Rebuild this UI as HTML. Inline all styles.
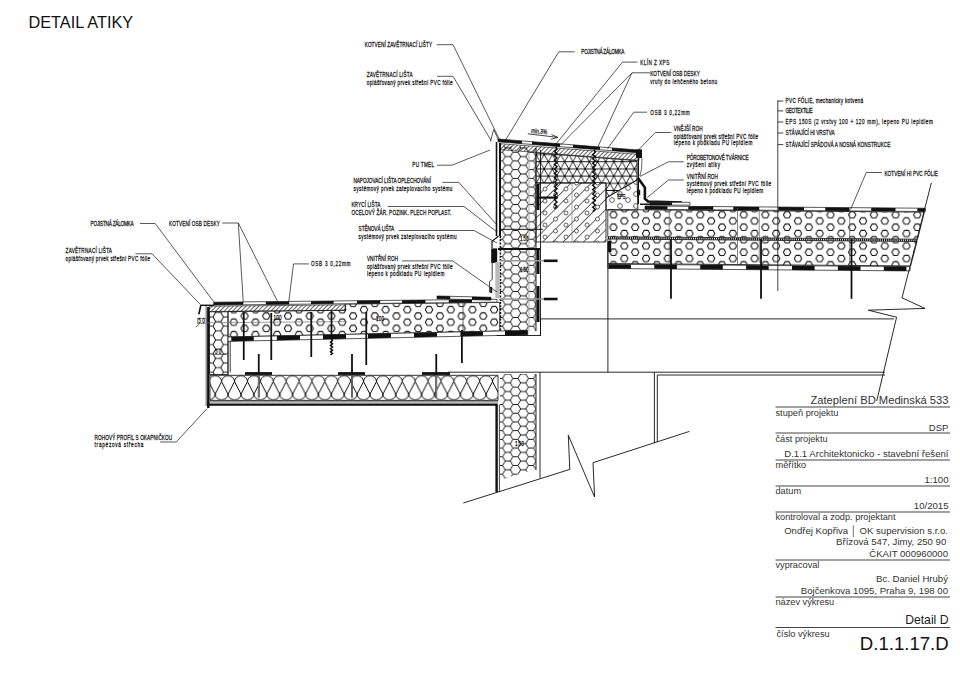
<!DOCTYPE html>
<html><head><meta charset="utf-8"><title>Detail atiky</title>
<style>
html,body{margin:0;padding:0;background:#fff;}
body{width:960px;height:678px;overflow:hidden;}
svg{display:block;font-family:"Liberation Sans",sans-serif;}
.lb{font-size:7.1px;fill:#111;stroke:#111;stroke-width:0.25px;}
.tb{fill:#333;}
</style></head><body>
<svg width="960" height="678" viewBox="0 0 960 678">
<defs>
<pattern id="hex" patternUnits="userSpaceOnUse" width="15.45" height="8.7" x="502.6" y="0">
<path d="M0,4.35 L2.575,0 L7.725,0 L10.3,4.35 L7.725,8.7 L2.575,8.7 Z M10.3,4.35 L15.45,4.35" fill="none" stroke="#111" stroke-width="0.95"/>
</pattern>
<pattern id="hexs" patternUnits="userSpaceOnUse" width="15.45" height="9.2" x="213.05" y="340">
<path d="M0,4.6 L2.575,0 L7.725,0 L10.3,4.6 L7.725,9.2 L2.575,9.2 Z M10.3,4.6 L15.45,4.6" fill="none" stroke="#111" stroke-width="0.95"/>
</pattern>
<pattern id="eps" patternUnits="userSpaceOnUse" width="21.7" height="12.5" x="608.5" y="211.7">
<path d="M1.30,3.10 L3.15,-0.10 L6.85,-0.10 L8.70,3.10 L6.85,6.30 L3.15,6.30 Z M1.30,15.60 L3.15,12.40 L6.85,12.40 L8.70,15.60 L6.85,18.80 L3.15,18.80 Z M12.15,9.30 L14.00,6.10 L17.70,6.10 L19.55,9.30 L17.70,12.50 L14.00,12.50 Z M12.15,-3.20 L14.00,-6.40 L17.70,-6.40 L19.55,-3.20 L17.70,0.00 L14.00,0.00 Z " fill="none" stroke="#111" stroke-width="1.05" stroke-linejoin="round"/>
</pattern>
<pattern id="epsl" patternUnits="userSpaceOnUse" width="21.7" height="12.5" x="608.5" y="212.9">
<path d="M1.30,3.10 L3.15,-0.10 L6.85,-0.10 L8.70,3.10 L6.85,6.30 L3.15,6.30 Z M1.30,15.60 L3.15,12.40 L6.85,12.40 L8.70,15.60 L6.85,18.80 L3.15,18.80 Z M12.15,9.30 L14.00,6.10 L17.70,6.10 L19.55,9.30 L17.70,12.50 L14.00,12.50 Z M12.15,-3.20 L14.00,-6.40 L17.70,-6.40 L19.55,-3.20 L17.70,0.00 L14.00,0.00 Z " fill="none" stroke="#111" stroke-width="1.05" stroke-linejoin="round"/>
</pattern>
<pattern id="eps2" patternUnits="userSpaceOnUse" width="16" height="12" x="0" y="185">
<circle cx="4" cy="3" r="2.4" fill="none" stroke="#222" stroke-width="0.7"/>
<circle cx="12" cy="9" r="2.4" fill="none" stroke="#222" stroke-width="0.7"/>
</pattern>
<pattern id="wool" patternUnits="userSpaceOnUse" width="12.9" height="25.1" x="215.2" y="375.3">
<path d="M-19.35,6.3 A6.45,5.80 0 0 1 -6.45,6.3 M-12.90,18.80 A6.45,5.80 0 0 0 0.00,18.80 M-19.35,6.3 L-12.90,18.80 L-6.45,6.3 M-6.45,6.3 A6.45,5.80 0 0 1 6.45,6.3 M0.00,18.80 A6.45,5.80 0 0 0 12.90,18.80 M-6.45,6.3 L0.00,18.80 L6.45,6.3 M6.45,6.3 A6.45,5.80 0 0 1 19.35,6.3 M12.90,18.80 A6.45,5.80 0 0 0 25.80,18.80 M6.45,6.3 L12.90,18.80 L19.35,6.3 M19.35,6.3 A6.45,5.80 0 0 1 32.25,6.3 M25.80,18.80 A6.45,5.80 0 0 0 38.70,18.80 M19.35,6.3 L25.80,18.80 L32.25,6.3 " fill="none" stroke="#000" stroke-width="0.95"/>
</pattern>
<pattern id="xps" patternUnits="userSpaceOnUse" width="8.2" height="14.4" x="536" y="154.5">
<path d="M0,0 L8.2,0 M0,7.2 L8.2,7.2 M0,14.4 L8.2,14.4 M0,0 L4.1,7.2 L0,14.4 M8.2,0 L4.1,7.2 L8.2,14.4 M-4.1,7.2 L0,0 M-4.1,7.2 L0,14.4 M12.299999999999999,7.2 L8.2,0 M12.299999999999999,7.2 L8.2,14.4" fill="none" stroke="#000" stroke-width="0.85"/><circle cx="0" cy="0" r="0.85" fill="#000"/><circle cx="8.2" cy="0" r="0.85" fill="#000"/><circle cx="4.1" cy="7.2" r="0.85" fill="#000"/><circle cx="0" cy="14.4" r="0.85" fill="#000"/><circle cx="8.2" cy="14.4" r="0.85" fill="#000"/>
</pattern>
<pattern id="conc" patternUnits="userSpaceOnUse" width="7.2" height="7.2" patternTransform="rotate(45)">
<line x1="0" y1="0" x2="0" y2="7.2" stroke="#111" stroke-width="1.25"/>
</pattern>
<pattern id="agg" patternUnits="userSpaceOnUse" width="21" height="12" x="540" y="183">
<circle cx="5" cy="6" r="2" fill="#fff" stroke="#222" stroke-width="0.7"/>
<circle cx="15.5" cy="0" r="2" fill="#fff" stroke="#222" stroke-width="0.7"/>
<circle cx="15.5" cy="12" r="2" fill="#fff" stroke="#222" stroke-width="0.7"/>
</pattern>
<pattern id="osb" patternUnits="userSpaceOnUse" width="3.0" height="3.0" patternTransform="rotate(45)">
<line x1="0" y1="0" x2="0" y2="3.0" stroke="#111" stroke-width="1.3"/>
</pattern>
</defs>
<rect x="0" y="0" width="960" height="678" fill="#fff"/>
<text x="28.5" y="28" font-size="16.3" fill="#111">DETAIL ATIKY</text>
<g id="drawing" fill="none" stroke-linecap="butt">
<polygon points="228.00,311.55 345.30,310.35 345.30,304.05 499.80,302.45 499.80,331.02 228.00,337.00" fill="url(#epsl)" stroke="#111" stroke-width="0.8" />
<polygon points="209.50,311.80 228.00,311.80 228.00,374.50 209.50,374.50" fill="url(#hexs)" stroke="#111" stroke-width="0.8" />
<polygon points="209.50,306.24 345.30,304.85 345.30,310.15 209.50,311.54" fill="url(#osb)" stroke="#111" stroke-width="0.6" />
<polygon points="213.80,302.20 497.00,299.28 497.00,302.18 213.80,305.10" fill="#fff" stroke="#111" stroke-width="0.7" />
<polygon points="213.80,302.20 243.25,301.90 243.25,304.80 213.80,305.10" fill="#111" stroke="none" stroke-width="0.8" />
<polygon points="265.80,301.66 289.20,301.42 289.20,304.32 265.80,304.56" fill="#111" stroke="none" stroke-width="0.8" />
<polygon points="311.00,301.20 333.60,300.97 333.60,303.87 311.00,304.10" fill="#111" stroke="none" stroke-width="0.8" />
<polygon points="357.00,300.73 380.20,300.49 380.20,303.39 357.00,303.63" fill="#111" stroke="none" stroke-width="0.8" />
<polygon points="402.00,300.26 425.40,300.02 425.40,302.92 402.00,303.16" fill="#111" stroke="none" stroke-width="0.8" />
<polygon points="448.75,299.78 472.00,299.54 472.00,302.44 448.75,302.68" fill="#111" stroke="none" stroke-width="0.8" />
<polygon points="437.00,296.00 491.00,297.30 491.00,300.10 437.00,298.80" fill="#fff" stroke="#111" stroke-width="0.7" />
<polygon points="437.00,296.00 450.20,296.32 450.20,299.12 437.00,298.80" fill="#111" stroke="none" stroke-width="0.8" />
<polygon points="472.00,296.84 491.00,297.30 491.00,300.10 472.00,299.64" fill="#111" stroke="none" stroke-width="0.8" />
<polygon points="228.00,337.00 527.70,330.41 527.70,334.81 228.00,341.40" fill="#fff" stroke="#111" stroke-width="0.7" />
<polygon points="231.25,336.93 253.75,336.43 253.75,340.83 231.25,341.33" fill="#111" stroke="none" stroke-width="0.8" />
<polygon points="276.90,335.92 300.00,335.42 300.00,339.82 276.90,340.32" fill="#111" stroke="none" stroke-width="0.8" />
<polygon points="323.00,334.91 346.00,334.40 346.00,338.80 323.00,339.31" fill="#111" stroke="none" stroke-width="0.8" />
<polygon points="368.00,333.92 391.00,333.41 391.00,337.81 368.00,338.32" fill="#111" stroke="none" stroke-width="0.8" />
<polygon points="414.00,332.91 437.00,332.40 437.00,336.80 414.00,337.31" fill="#111" stroke="none" stroke-width="0.8" />
<polygon points="460.40,331.89 483.00,331.39 483.00,335.79 460.40,336.29" fill="#111" stroke="none" stroke-width="0.8" />
<polygon points="505.00,330.91 527.70,330.41 527.70,334.81 505.00,335.31" fill="#111" stroke="none" stroke-width="0.8" />
<line x1="230.20" y1="340.96" x2="230.20" y2="372.40" stroke="#111" stroke-width="0.8" />
<line x1="228.00" y1="341.00" x2="228.00" y2="374.50" stroke="#111" stroke-width="0.8" />
<polygon points="210.00,375.30 498.00,375.30 498.00,400.40 210.00,400.40" fill="url(#wool)" stroke="#111" stroke-width="0.8" />
<line x1="207.00" y1="401.90" x2="498.00" y2="401.90" stroke="#555" stroke-width="1.0" />
<polyline points="207.00,404.60 496.60,404.60 496.60,492.00" fill="none" stroke="#111" stroke-width="2.4" />
<line x1="499.40" y1="404.60" x2="499.40" y2="492.00" stroke="#111" stroke-width="0.8" />
<line x1="208.30" y1="307.00" x2="208.30" y2="408.00" stroke="#111" stroke-width="2.4" />
<line x1="206.20" y1="306.00" x2="206.20" y2="406.00" stroke="#888" stroke-width="1.4" />
<polyline points="200.50,305.30 214.00,305.30" fill="none" stroke="#111" stroke-width="1.4" />
<polyline points="200.80,305.30 198.80,314.30" fill="none" stroke="#111" stroke-width="1.6" />
<line x1="198.00" y1="322.80" x2="345.00" y2="321.60" stroke="#777" stroke-width="0.7" />
<rect x="197.4" y="318.2" width="8.6" height="5.4" fill="#fff" stroke="#333" stroke-width="0.5"/>
<text transform="translate(198.3,323.2) scale(0.66,1)" class="lb" textLength="9.8" lengthAdjust="spacing" text-anchor="start">50</text>
<polyline points="196.00,327.00 199.50,323.80" fill="none" stroke="#111" stroke-width="0.7" />
<text transform="translate(215.0,353.5) scale(0.66,1)" class="lb" textLength="9.8" lengthAdjust="spacing" text-anchor="start">50</text>
<line x1="212.00" y1="354.50" x2="226.00" y2="354.50" stroke="#333" stroke-width="0.6" />
<text transform="translate(273.6,319.8) scale(0.66,1)" class="lb" textLength="12.1" lengthAdjust="spacing" text-anchor="start">100</text>
<text transform="translate(376.0,320.5) scale(0.66,1)" class="lb" textLength="12.1" lengthAdjust="spacing" text-anchor="start">100</text>
<text transform="translate(520.0,241.0) scale(0.66,1)" class="lb" textLength="13.6" lengthAdjust="spacing" text-anchor="start">150</text>
<text transform="translate(520.0,272.0) scale(0.66,1)" class="lb" textLength="13.6" lengthAdjust="spacing" text-anchor="start">150</text>
<text transform="translate(515.0,446.0) scale(0.66,1)" class="lb" textLength="13.6" lengthAdjust="spacing" text-anchor="start">150</text>
<line x1="463.00" y1="303.00" x2="463.00" y2="331.00" stroke="#444" stroke-width="0.8" />
<line x1="243.75" y1="312.00" x2="243.75" y2="360.00" stroke="#111" stroke-width="1.8" />
<line x1="271.25" y1="313.00" x2="271.25" y2="360.00" stroke="#111" stroke-width="1.8" />
<line x1="311.25" y1="312.00" x2="311.25" y2="357.00" stroke="#111" stroke-width="1.8" />
<line x1="366.25" y1="312.00" x2="366.25" y2="365.00" stroke="#111" stroke-width="1.8" />
<line x1="461.90" y1="330.00" x2="461.90" y2="363.00" stroke="#111" stroke-width="1.8" />
<line x1="331.50" y1="311.00" x2="331.50" y2="339.00" stroke="#111" stroke-width="1.8" />
<path d="M331.5,339.0 L332.4,340.6 L330.6,342.2 L332.4,343.8 L330.6,345.4 L332.4,347.0 L330.6,348.6 L332.4,350.2 L330.6,351.8 L332.4,353.4 L330.6,355.0" stroke="#111" stroke-width="1.6" fill="none"/>
<line x1="258.75" y1="354.00" x2="258.75" y2="397.50" stroke="#111" stroke-width="1.8" />
<line x1="245.00" y1="373.50" x2="272.00" y2="373.50" stroke="#111" stroke-width="2.8" />
<line x1="258.75" y1="375.00" x2="258.75" y2="397.50" stroke="#888" stroke-width="1.2" />
<line x1="352.00" y1="354.00" x2="352.00" y2="397.50" stroke="#111" stroke-width="1.8" />
<line x1="338.00" y1="373.50" x2="365.00" y2="373.50" stroke="#111" stroke-width="2.8" />
<line x1="352.00" y1="375.00" x2="352.00" y2="397.50" stroke="#888" stroke-width="1.2" />
<line x1="436.25" y1="354.00" x2="436.25" y2="397.50" stroke="#111" stroke-width="1.8" />
<line x1="422.00" y1="373.50" x2="450.00" y2="373.50" stroke="#111" stroke-width="2.8" />
<line x1="436.25" y1="375.00" x2="436.25" y2="397.50" stroke="#888" stroke-width="1.2" />
<polygon points="500.00,145.00 536.00,148.00 536.00,331.00 500.00,331.00" fill="url(#hex)" stroke="none" stroke-width="0.8" />
<line x1="500.00" y1="143.00" x2="500.00" y2="236.00" stroke="#111" stroke-width="2.0" />
<line x1="500.40" y1="236.00" x2="500.40" y2="331.00" stroke="#111" stroke-width="1.6" stroke-dasharray="2,1.3"/>
<line x1="496.50" y1="142.00" x2="496.50" y2="236.00" stroke="#111" stroke-width="1.6" />
<polyline points="498.60,236.00 492.00,241.30 492.00,248.00" fill="none" stroke="#111" stroke-width="1.2" />
<line x1="529.00" y1="150.00" x2="529.00" y2="331.00" stroke="#aaa" stroke-width="1.0" />
<line x1="540.50" y1="150.00" x2="540.50" y2="336.00" stroke="#111" stroke-width="0.9" />
<line x1="536.00" y1="148.00" x2="536.00" y2="331.00" stroke="#111" stroke-width="0.9" />
<line x1="500.00" y1="229.30" x2="543.00" y2="229.30" stroke="#111" stroke-width="1.0" />
<line x1="498.00" y1="249.00" x2="540.00" y2="249.00" stroke="#111" stroke-width="2.0" />
<line x1="538.00" y1="184.00" x2="538.00" y2="210.00" stroke="#111" stroke-width="3.0" />
<line x1="538.00" y1="249.00" x2="538.00" y2="274.00" stroke="#111" stroke-width="3.0" />
<line x1="538.00" y1="286.00" x2="538.00" y2="322.00" stroke="#111" stroke-width="3.0" />
<rect x="491.20" y="248.40" width="6.00" height="14.50" fill="#111" />
<rect x="495.30" y="262.00" width="4.50" height="36.00" fill="#bbb" />
<polyline points="492.20,262.00 492.20,279.40 489.60,281.50 489.60,292.40" fill="none" stroke="#111" stroke-width="0.8" />
<line x1="491.20" y1="287.00" x2="491.20" y2="293.00" stroke="#111" stroke-width="2.0" />
<polyline points="496.50,335.50 540.50,335.50 540.50,318.90" fill="none" stroke="#111" stroke-width="0.9" />
<line x1="500.00" y1="260.80" x2="543.80" y2="260.80" stroke="#999" stroke-width="1.6" />
<line x1="543.80" y1="260.80" x2="557.60" y2="260.80" stroke="#111" stroke-width="2.6" />
<line x1="500.00" y1="299.00" x2="543.80" y2="299.00" stroke="#999" stroke-width="1.6" />
<line x1="543.80" y1="299.00" x2="557.60" y2="299.00" stroke="#111" stroke-width="2.6" />
<line x1="537.50" y1="197.60" x2="555.70" y2="197.60" stroke="#111" stroke-width="2.2" />
<circle cx="555.7" cy="197.6" r="2" fill="#111"/>
<polygon points="536.00,152.92 637.00,160.69 637.00,180.00 606.00,198.00 606.00,183.00 536.00,183.00" fill="url(#xps)" stroke="#111" stroke-width="0.8" />
<polygon points="536.00,183.00 606.00,183.00 606.00,242.00 536.00,242.00" fill="url(#conc)" stroke="#111" stroke-width="0.8" />
<polygon points="536.00,183.00 606.00,183.00 606.00,242.00 536.00,242.00" fill="url(#agg)" stroke="none" stroke-width="0.8" />
<polygon points="606.00,198.00 637.00,180.00 638.00,210.00 606.00,210.00" fill="url(#eps2)" stroke="#111" stroke-width="0.8" />
<text transform="translate(617.2,198.5) scale(0.66,1)" class="lb" textLength="12.6" lengthAdjust="spacing" text-anchor="start">EPS</text>
<line x1="572.00" y1="183.00" x2="572.00" y2="242.00" stroke="#888" stroke-width="0.8" />
<polygon points="500.00,143.65 639.00,154.35 639.00,160.35 500.00,149.65" fill="url(#osb)" stroke="#111" stroke-width="0.6" />
<polygon points="498.00,139.00 641.00,150.20 641.00,153.00 498.00,141.80" fill="#fff" stroke="#111" stroke-width="0.7" />
<polygon points="498.00,139.00 522.00,140.88 522.00,143.68 498.00,141.80" fill="#111" stroke="none" stroke-width="0.8" />
<polygon points="532.00,141.66 560.00,143.86 560.00,146.66 532.00,144.46" fill="#111" stroke="none" stroke-width="0.8" />
<polygon points="573.00,144.87 600.00,146.99 600.00,149.79 573.00,147.67" fill="#111" stroke="none" stroke-width="0.8" />
<polygon points="612.00,147.93 641.00,150.20 641.00,153.00 612.00,150.73" fill="#111" stroke="none" stroke-width="0.8" />
<rect x="636.00" y="149.50" width="6.00" height="8.50" fill="#111" />
<polyline points="642.00,158.00 641.60,169.00 639.80,176.00" fill="none" stroke="#666" stroke-width="1.0" />
<line x1="638.30" y1="151.00" x2="638.30" y2="204.00" stroke="#111" stroke-width="1.4" />
<polyline points="638.00,178.00 644.90,187.60 644.90,198.70 648.00,201.50 682.00,202.60" fill="none" stroke="#111" stroke-width="2.6" />
<rect x="637.00" y="189.80" width="3.20" height="5.50" fill="#111" />
<line x1="640.00" y1="204.20" x2="680.00" y2="204.20" stroke="#111" stroke-width="1.6" />
<path d="M555.7,147.0 L557.0,149.2 L554.4,151.4 L557.0,153.6 L554.4,155.8 L557.0,158.0 L554.4,160.2 L557.0,162.4 L554.4,164.6 L557.0,166.8 L554.4,169.0 L557.0,171.2 L554.4,173.4 L557.0,175.6 L554.4,177.8 L557.0,180.0 L554.4,182.2 L557.0,184.4 L554.4,186.6 L557.0,188.8 L554.4,191.0 L557.0,193.2 L554.4,195.4 L557.0,197.6 L554.4,199.8 L557.0,202.0 L554.4,204.2 L557.0,206.4 L554.4,208.6" stroke="#111" stroke-width="1.5" fill="none"/>
<path d="M594.0,150.0 L595.3,152.2 L592.7,154.4 L595.3,156.6 L592.7,158.8 L595.3,161.0 L592.7,163.2 L595.3,165.4 L592.7,167.6 L595.3,169.8 L592.7,172.0 L595.3,174.2 L592.7,176.4 L595.3,178.6 L592.7,180.8 L595.3,183.0 L592.7,185.2 L595.3,187.4 L592.7,189.6 L595.3,191.8 L592.7,194.0 L595.3,196.2 L592.7,198.4 L595.3,200.6 L592.7,202.8 L595.3,205.0 L592.7,207.2 L595.3,209.4 L592.7,211.6" stroke="#111" stroke-width="1.5" fill="none"/>
<polygon points="607.80,209.60 924.41,212.13 917.52,239.18 607.80,236.70" fill="url(#eps)" stroke="#111" stroke-width="0.8" />
<polygon points="607.80,239.00 917.01,241.47 910.63,265.92 607.80,263.50" fill="url(#eps)" stroke="#111" stroke-width="0.8" />
<line x1="607.8" y1="237.9" x2="917.3" y2="240.4" stroke="#111" stroke-width="2.2" stroke-dasharray="1.2,0.9"/>
<polygon points="645.00,206.00 925.17,208.24 925.17,211.54 645.00,209.30" fill="#fff" stroke="#111" stroke-width="0.7" />
<polygon points="645.00,206.00 667.50,206.18 667.50,209.48 645.00,209.30" fill="#111" stroke="none" stroke-width="0.8" />
<polygon points="688.30,206.35 713.30,206.55 713.30,209.85 688.30,209.65" fill="#111" stroke="none" stroke-width="0.8" />
<polygon points="733.30,206.71 759.20,206.91 759.20,210.21 733.30,210.01" fill="#111" stroke="none" stroke-width="0.8" />
<polygon points="778.30,207.07 804.00,207.27 804.00,210.57 778.30,210.37" fill="#111" stroke="none" stroke-width="0.8" />
<polygon points="825.20,207.44 849.40,207.64 849.40,210.94 825.20,210.74" fill="#111" stroke="none" stroke-width="0.8" />
<polygon points="871.25,207.81 895.50,208.00 895.50,211.30 871.25,211.11" fill="#111" stroke="none" stroke-width="0.8" />
<polygon points="917.30,208.18 925.43,208.24 925.43,211.54 917.30,211.48" fill="#111" stroke="none" stroke-width="0.8" />
<polygon points="650.00,202.30 690.00,202.30 690.00,205.10 650.00,205.10" fill="#fff" stroke="#111" stroke-width="0.7" />
<polygon points="650.00,202.30 672.00,202.30 672.00,205.10 650.00,205.10" fill="#111" stroke="none" stroke-width="0.8" />
<polygon points="607.80,264.20 910.12,266.62 910.12,270.92 607.80,268.50" fill="#fff" stroke="#111" stroke-width="0.7" />
<polygon points="608.40,264.20 631.00,264.39 631.00,268.69 608.40,268.50" fill="#111" stroke="none" stroke-width="0.8" />
<polygon points="654.30,264.57 676.90,264.75 676.90,269.05 654.30,268.87" fill="#111" stroke="none" stroke-width="0.8" />
<polygon points="700.20,264.94 722.80,265.12 722.80,269.42 700.20,269.24" fill="#111" stroke="none" stroke-width="0.8" />
<polygon points="746.10,265.31 768.70,265.49 768.70,269.79 746.10,269.61" fill="#111" stroke="none" stroke-width="0.8" />
<polygon points="792.00,265.67 814.60,265.85 814.60,270.15 792.00,269.97" fill="#111" stroke="none" stroke-width="0.8" />
<polygon points="837.90,266.04 860.50,266.22 860.50,270.52 837.90,270.34" fill="#111" stroke="none" stroke-width="0.8" />
<polygon points="883.80,266.41 906.40,266.59 906.40,270.89 883.80,270.71" fill="#111" stroke="none" stroke-width="0.8" />
<rect x="608.00" y="241.00" width="3.20" height="11.00" fill="#111" />
<line x1="671.00" y1="239.00" x2="671.00" y2="298.80" stroke="#111" stroke-width="1.8" />
<line x1="669.20" y1="209.00" x2="669.20" y2="263.00" stroke="#555" stroke-width="0.7" />
<line x1="761.00" y1="239.00" x2="761.00" y2="298.80" stroke="#111" stroke-width="1.8" />
<line x1="759.20" y1="209.00" x2="759.20" y2="263.00" stroke="#555" stroke-width="0.7" />
<line x1="851.50" y1="239.00" x2="851.50" y2="298.80" stroke="#111" stroke-width="1.8" />
<line x1="849.70" y1="209.00" x2="849.70" y2="263.00" stroke="#555" stroke-width="0.7" />
<line x1="737.50" y1="208.00" x2="737.50" y2="266.00" stroke="#555" stroke-width="0.7" />
<polyline points="931.30,183.00 902.00,297.80 924.90,308.40 868.30,310.20 896.60,317.20 876.70,401.00" fill="none" stroke="#111" stroke-width="0.9" />
<line x1="607.90" y1="242.00" x2="607.90" y2="372.00" stroke="#111" stroke-width="0.9" />
<line x1="540.50" y1="318.90" x2="894.00" y2="318.90" stroke="#111" stroke-width="0.9" />
<line x1="448.00" y1="372.20" x2="885.00" y2="372.20" stroke="#111" stroke-width="0.9" />
<line x1="657.30" y1="375.00" x2="885.00" y2="375.00" stroke="#111" stroke-width="0.9" />
<line x1="654.40" y1="372.20" x2="654.40" y2="443.00" stroke="#111" stroke-width="0.9" />
<line x1="657.30" y1="375.00" x2="657.30" y2="442.00" stroke="#111" stroke-width="0.9" />
<line x1="540.00" y1="372.20" x2="540.00" y2="478.00" stroke="#111" stroke-width="0.9" />
<polygon points="500.00,374.00 536.00,374.00 536.00,469.00 500.00,480.00" fill="url(#hex)" stroke="none" stroke-width="0.8" />
<line x1="536.00" y1="374.00" x2="536.00" y2="470.00" stroke="#111" stroke-width="0.9" />
<polyline points="463.30,503.00 569.80,469.40 568.30,435.20 594.60,497.00 593.00,462.70 689.40,431.40" fill="none" stroke="#111" stroke-width="0.9" />
<text x="531" y="133" class="lb" font-size="5.5" textLength="16" lengthAdjust="spacingAndGlyphs" transform="rotate(4.5 531 133)">min.3%</text>
<polyline points="527.80,133.80 557.80,137.40" fill="none" stroke="#111" stroke-width="0.8" />
<polyline points="551.50,134.60 557.80,137.40 551.00,139.30" fill="none" stroke="#111" stroke-width="0.8" />
</g>
<g id="labels" fill="none" stroke="#111" stroke-width="0.7">
<polyline points="436.70,44.70 453.00,44.70 500.90,142.30" fill="none" stroke="#111" stroke-width="0.7" />
<polyline points="437.00,76.30 453.00,76.30 491.10,140.60" fill="none" stroke="#111" stroke-width="0.7" />
<polyline points="490.50,141.50 493.60,129.50 499.00,141.00" fill="none" stroke="#111" stroke-width="0.7" />
<polyline points="437.00,165.20 452.00,165.20 490.00,150.00" fill="none" stroke="#111" stroke-width="0.7" />
<polyline points="442.30,182.40 458.80,182.40 497.00,225.00" fill="none" stroke="#111" stroke-width="0.7" />
<polyline points="387.50,206.50 464.00,206.50 497.00,232.00" fill="none" stroke="#111" stroke-width="0.7" />
<polyline points="398.90,230.50 474.00,230.50 497.00,243.00" fill="none" stroke="#111" stroke-width="0.7" />
<polyline points="402.00,260.90 452.60,260.90 497.00,292.00" fill="none" stroke="#111" stroke-width="0.7" />
<polyline points="140.00,223.50 155.20,223.50 213.80,301.90" fill="none" stroke="#111" stroke-width="0.7" />
<polyline points="222.20,223.00 238.30,223.00 243.25,301.90" fill="none" stroke="#111" stroke-width="0.7" />
<polyline points="238.30,223.00 277.60,301.50" fill="none" stroke="#111" stroke-width="0.7" />
<polyline points="135.40,253.75 152.00,253.75 200.50,304.70" fill="none" stroke="#111" stroke-width="0.7" />
<polyline points="308.90,263.90 293.50,263.90 288.80,301.50" fill="none" stroke="#111" stroke-width="0.7" />
<polyline points="574.70,51.80 558.75,51.80 505.60,140.00" fill="none" stroke="#111" stroke-width="0.7" />
<polyline points="637.50,62.10 622.50,62.10 556.00,144.00" fill="none" stroke="#111" stroke-width="0.7" />
<polyline points="650.00,72.80 632.00,72.80 560.60,145.00" fill="none" stroke="#111" stroke-width="0.7" />
<polyline points="632.00,72.80 597.00,148.80" fill="none" stroke="#111" stroke-width="0.7" />
<polyline points="647.00,112.20 633.75,112.20 607.50,148.80" fill="none" stroke="#111" stroke-width="0.7" />
<polyline points="671.40,132.50 655.30,132.50 637.50,151.00" fill="none" stroke="#111" stroke-width="0.7" />
<polyline points="683.75,161.80 668.40,161.80 640.00,176.40" fill="none" stroke="#111" stroke-width="0.7" />
<polyline points="683.75,180.00 668.40,180.00 647.30,197.50" fill="none" stroke="#111" stroke-width="0.7" />
<polyline points="881.90,172.50 866.25,172.50 850.60,209.40" fill="none" stroke="#111" stroke-width="0.7" />
<polyline points="160.20,442.00 176.25,442.00 206.90,408.75" fill="none" stroke="#111" stroke-width="0.7" />
<line x1="777.80" y1="100.30" x2="777.80" y2="291.00" stroke="#111" stroke-width="0.8" />
<line x1="777.80" y1="101.00" x2="783.30" y2="101.00" stroke="#111" stroke-width="0.8" />
<line x1="777.80" y1="110.90" x2="783.30" y2="110.90" stroke="#111" stroke-width="0.8" />
<line x1="777.80" y1="122.00" x2="783.30" y2="122.00" stroke="#111" stroke-width="0.8" />
<line x1="777.80" y1="133.00" x2="783.30" y2="133.00" stroke="#111" stroke-width="0.8" />
<line x1="777.80" y1="144.60" x2="783.30" y2="144.60" stroke="#111" stroke-width="0.8" />
</g>
<g id="labtext">
<text transform="translate(364.7,46.7) scale(0.66,1)" class="lb" textLength="102.0" lengthAdjust="spacing" text-anchor="start">KOTVENÍ ZAVĚTRNACÍ LIŠTY</text>
<text transform="translate(366.7,77.0) scale(0.66,1)" class="lb" textLength="69.4" lengthAdjust="spacing" text-anchor="start">ZAVĚTRNACÍ LIŠTA</text>
<text transform="translate(366.7,85.0) scale(0.66,1)" class="lb" textLength="130.0" lengthAdjust="spacing" text-anchor="start">oplášťovaný prvek střešní PVC fólie</text>
<text transform="translate(412.3,166.9) scale(0.66,1)" class="lb" textLength="32.9" lengthAdjust="spacing" text-anchor="start">PU TMEL</text>
<text transform="translate(353.4,183.0) scale(0.66,1)" class="lb" textLength="117.6" lengthAdjust="spacing" text-anchor="start">NAPOJOVACÍ LIŠTA OPLECHOVÁNÍ</text>
<text transform="translate(353.4,191.2) scale(0.66,1)" class="lb" textLength="150.0" lengthAdjust="spacing" text-anchor="start">systémový prvek zateplovacího systému</text>
<text transform="translate(351.4,207.0) scale(0.66,1)" class="lb" textLength="43.9" lengthAdjust="spacing" text-anchor="start">KRYCÍ LIŠTA</text>
<text transform="translate(351.4,215.4) scale(0.66,1)" class="lb" textLength="151.5" lengthAdjust="spacing" text-anchor="start">OCELOVÝ ŽÁR. POZINK. PLECH POPLAST.</text>
<text transform="translate(358.6,231.0) scale(0.66,1)" class="lb" textLength="53.8" lengthAdjust="spacing" text-anchor="start">STĚNOVÁ LIŠTA</text>
<text transform="translate(358.6,238.8) scale(0.66,1)" class="lb" textLength="148.5" lengthAdjust="spacing" text-anchor="start">systémový prvek zateplovacího systému</text>
<text transform="translate(366.9,260.9) scale(0.66,1)" class="lb" textLength="47.4" lengthAdjust="spacing" text-anchor="start">VNITŘNÍ ROH</text>
<text transform="translate(366.9,269.1) scale(0.66,1)" class="lb" textLength="129.8" lengthAdjust="spacing" text-anchor="start">oplášťovaný prvek střešní PVC fólie</text>
<text transform="translate(366.9,276.4) scale(0.66,1)" class="lb" textLength="117.3" lengthAdjust="spacing" text-anchor="start">lepeno k podkladu PU lepidlem</text>
<text transform="translate(90.6,226.0) scale(0.66,1)" class="lb" textLength="65.2" lengthAdjust="spacing" text-anchor="start">POJISTNÁ ZÁLOMKA</text>
<text transform="translate(169.0,226.0) scale(0.66,1)" class="lb" textLength="77.0" lengthAdjust="spacing" text-anchor="start">KOTVENÍ OSB DESKY</text>
<text transform="translate(65.6,253.0) scale(0.66,1)" class="lb" textLength="70.3" lengthAdjust="spacing" text-anchor="start">ZAVĚTRNACÍ LIŠTA</text>
<text transform="translate(65.6,261.0) scale(0.66,1)" class="lb" textLength="127.9" lengthAdjust="spacing" text-anchor="start">oplášťovaný prvek střešní PVC fólie</text>
<text transform="translate(311.0,266.0) scale(0.66,1)" class="lb" textLength="59.7" lengthAdjust="spacing" text-anchor="start">OSB 3 0,22mm</text>
<text transform="translate(581.3,54.0) scale(0.66,1)" class="lb" textLength="65.2" lengthAdjust="spacing" text-anchor="start">POJISTNÁ ZÁLOMKA</text>
<text transform="translate(640.3,64.8) scale(0.66,1)" class="lb" textLength="43.9" lengthAdjust="spacing" text-anchor="start">KLÍN Z XPS</text>
<text transform="translate(650.2,76.3) scale(0.66,1)" class="lb" textLength="75.2" lengthAdjust="spacing" text-anchor="start">KOTVENÍ OSB DESKY</text>
<text transform="translate(650.2,83.8) scale(0.66,1)" class="lb" textLength="101.5" lengthAdjust="spacing" text-anchor="start">vruty do lehčeného betonu</text>
<text transform="translate(650.2,115.1) scale(0.66,1)" class="lb" textLength="59.7" lengthAdjust="spacing" text-anchor="start">OSB 3 0,22mm</text>
<text transform="translate(673.8,130.7) scale(0.66,1)" class="lb" textLength="43.8" lengthAdjust="spacing" text-anchor="start">VNĚJŠÍ ROH</text>
<text transform="translate(673.8,138.8) scale(0.66,1)" class="lb" textLength="127.7" lengthAdjust="spacing" text-anchor="start">oplášťovaný prvek střešní PVC fólie</text>
<text transform="translate(673.8,145.3) scale(0.66,1)" class="lb" textLength="118.9" lengthAdjust="spacing" text-anchor="start">lepeno k podkladu PU lepidlem</text>
<text transform="translate(686.7,160.3) scale(0.66,1)" class="lb" textLength="93.8" lengthAdjust="spacing" text-anchor="start">PÓROBETONOVÉ TVÁRNICE</text>
<text transform="translate(686.7,166.9) scale(0.66,1)" class="lb" textLength="50.5" lengthAdjust="spacing" text-anchor="start">zvýšení atiky</text>
<text transform="translate(686.7,178.5) scale(0.66,1)" class="lb" textLength="47.4" lengthAdjust="spacing" text-anchor="start">VNITŘNÍ ROH</text>
<text transform="translate(686.7,185.8) scale(0.66,1)" class="lb" textLength="128.0" lengthAdjust="spacing" text-anchor="start">systémový prvek střešní PVC fólie</text>
<text transform="translate(686.7,193.1) scale(0.66,1)" class="lb" textLength="115.9" lengthAdjust="spacing" text-anchor="start">lepeno k podkladu PU lepidlem</text>
<text transform="translate(785.6,103.3) scale(0.66,1)" class="lb" textLength="117.3" lengthAdjust="spacing" text-anchor="start">PVC FÓLIE, mechanicky kotvená</text>
<text transform="translate(785.6,113.0) scale(0.66,1)" class="lb" textLength="40.9" lengthAdjust="spacing" text-anchor="start">GEOTEXTILIE</text>
<text transform="translate(785.6,124.0) scale(0.66,1)" class="lb" textLength="223.3" lengthAdjust="spacing" text-anchor="start">EPS 150S (2 vrstvy 100 + 120 mm), lepeno PU lepidlem</text>
<text transform="translate(785.6,135.2) scale(0.66,1)" class="lb" textLength="74.2" lengthAdjust="spacing" text-anchor="start">STÁVAJÍCÍ HI VRSTVA</text>
<text transform="translate(785.6,146.7) scale(0.66,1)" class="lb" textLength="158.8" lengthAdjust="spacing" text-anchor="start">STÁVAJÍCÍ SPÁDOVÁ A NOSNÁ KONSTRUKCE</text>
<text transform="translate(884.4,176.0) scale(0.66,1)" class="lb" textLength="81.2" lengthAdjust="spacing" text-anchor="start">KOTVENÍ HI PVC FÓLIE</text>
<text transform="translate(94.6,439.7) scale(0.66,1)" class="lb" textLength="117.6" lengthAdjust="spacing" text-anchor="start">ROHOVÝ PROFIL S OKAPNIČKOU</text>
<text transform="translate(94.6,446.7) scale(0.66,1)" class="lb" textLength="73.9" lengthAdjust="spacing" text-anchor="start">trapézová střecha</text>
</g><g id="titleblock" font-size="9.2" class="tb">
<g stroke="#444" stroke-width="1.2">
<line x1="775.5" y1="407" x2="950" y2="407"/>
<line x1="775.5" y1="433" x2="950" y2="433"/>
<line x1="775.5" y1="460" x2="950" y2="460"/>
<line x1="775.5" y1="486" x2="950" y2="486"/>
<line x1="775.5" y1="512" x2="950" y2="512"/>
<line x1="775.5" y1="560" x2="950" y2="560"/>
<line x1="775.5" y1="597" x2="950" y2="597"/>
<line x1="775.5" y1="627.5" x2="950" y2="627.5"/>
</g>
<text x="948.5" y="404" font-size="11.2" text-anchor="end">Zateplení BD Medinská 533</text>
<text x="775.5" y="415.5">stupeň projektu</text>
<text x="948.5" y="430.5" font-size="9.6" text-anchor="end">DSP</text>
<text x="775.5" y="441.5">část projektu</text>
<text x="948.5" y="457" font-size="9.6" text-anchor="end">D.1.1 Architektonicko - stavební řešení</text>
<text x="775.5" y="468">měřítko</text>
<text x="948.5" y="483" font-size="9.6" text-anchor="end">1:100</text>
<text x="775.5" y="494">datum</text>
<text x="948.5" y="509" font-size="9.6" text-anchor="end">10/2015</text>
<text x="775.5" y="520">kontroloval a zodp. projektant</text>
<text x="948" y="534.3" font-size="9.6" text-anchor="end">Ondřej Kopřiva │ OK supervision s.r.o.</text>
<text x="946.3" y="545.4" font-size="9.6" text-anchor="end">Břízová 547, Jimy, 250 90</text>
<text x="948" y="557.2" font-size="9.6" text-anchor="end">ČKAIT 000960000</text>
<text x="775.5" y="568">vypracoval</text>
<text x="948" y="581.9" font-size="9.6" text-anchor="end">Bc. Daniel Hrubý</text>
<text x="948" y="593.7" font-size="9.6" text-anchor="end">Bojčenkova 1095, Praha 9, 198 00</text>
<text x="775.5" y="605">název výkresu</text>
<text x="948.5" y="624" font-size="12.2" text-anchor="end" fill="#222">Detail D</text>
<text x="776.5" y="636.5">číslo výkresu</text>
<text x="948.7" y="650" font-size="18.6" text-anchor="end" fill="#111">D.1.1.17.D</text>
</g>
</svg>
</body></html>
